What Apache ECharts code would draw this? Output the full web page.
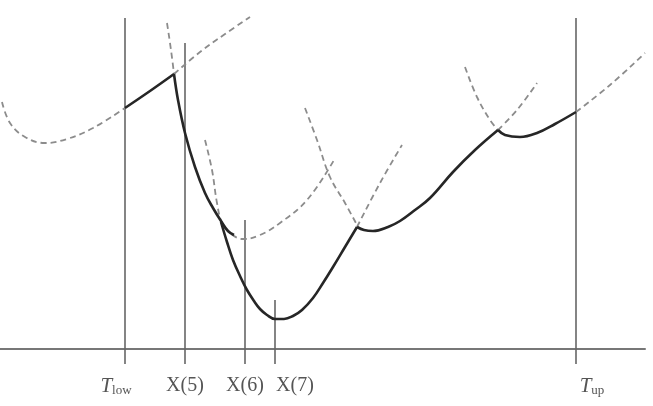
<!DOCTYPE html>
<html><head><meta charset="utf-8">
<script src="https://cdn.jsdelivr.net/npm/echarts@6/dist/echarts.min.js"></script>
<style>html,body{margin:0;padding:0;background:#fff}#c{width:653px;height:406px}</style>
</head><body><div id="c"></div>
<script>
// Tick positions and labels
const tickValues = [125, 185, 245, 275, 576];
const tickLabels = ['{t|T}{sublow|low}', '{x|X(5)}', '{x|X(6)}', '{x7|X(7)}', '{tu|T}{sub|up}'];
// Vertical guide lines: x and top value
const guideX = [125, 185, 245, 275, 576];
const guideTop = [331, 306, 129, 49, 331];

// Curve segments [x, y]
const curveA_dashL = [[2,247],[10,226],[25,212],[45,206],[67,210],[93,221],[125,241]];
const curveA_solid = [[125,241],[150,258],[174,275]];
const curveA_dashR = [[174,275],[200,297],[225,315],[250,332]];
const curveB_dash = [[167,326],[171,299],[174,275]];
const curveB_solid = [[174,275],[178,249],[185,216],[195,182],[205,156],[213,141],[221,128],[228,118],[234,114]];
const curveC_dash = [[205,209],[212,179],[217,146],[222,126],[230,116],[243,110],[260,114],[280,126],[307,149],[334,189]];
const curveD_solid = [[221,127],[227,107],[233,89],[240,73],[247,59],[254,48],[260,40],[267,34],[275,30],[284,30],[293,33],[302,39],[313,51],[323,66],[333,82],[345,102],[357,122]];
const curveD_dash = [[357,122],[380,166],[402,204]];
const curveE_dash = [[305,241],[317,209],[330,172],[345,146],[357,124]];
const curveE_solid = [[357,122],[364,119],[373,118],[388,122],[400,128],[415,139],[430,151],[453,177],[475,199],[498,219]];
const curveE_dash2 = [[498,219],[517,239],[537,266]];
const curveF_dash = [[465,282],[477,252],[490,229],[498,219]];
const curveF_solid = [[498,219],[505,214],[520,212],[537,216],[555,225],[576,237]];
const curveF_dash2 = [[576,237],[610,264],[645,296]];

const solidStyle = {color:'#262626', width:2.6};
const dashStyle = {color:'#8c8c8c', width:1.8, type:[6,4]};
const series = [];
guideX.forEach((x,i)=>{
  series.push({type:'line', data:[[x,0],[x,guideTop[i]]], symbol:'none', clip:false,
    lineStyle:{color:'#666', width:1.6}, silent:true, z:1});
});
[curveA_dashL, curveA_dashR, curveB_dash, curveC_dash, curveD_dash, curveE_dash, curveE_dash2, curveF_dash, curveF_dash2].forEach(d=>{
  series.push({type:'line', data:d, symbol:'none', smooth:0.4, clip:false, lineStyle:dashStyle, z:2});
});
[curveA_solid, curveB_solid, curveD_solid, curveE_solid, curveF_solid].forEach(d=>{
  series.push({type:'line', data:d, symbol:'none', smooth:0.4, clip:false, lineStyle:solidStyle, z:3});
});

const chart = echarts.init(document.getElementById('c'), null, {renderer:'canvas'});
chart.setOption({
  animation:false,
  backgroundColor:'#fff',
  grid:{left:0, right:8, top:0, bottom:57, containLabel:false},
  xAxis:{type:'value', min:0, max:645, splitLine:{show:false},
    axisLine:{show:true, lineStyle:{color:'#777', width:2}},
    axisTick:{show:true, customValues:tickValues, length:15, lineStyle:{color:'#666', width:1.6}},
    axisLabel:{show:true, customValues:tickValues, margin:27, color:'#555',
      fontFamily:'Liberation Serif', fontSize:20,
      formatter:(v)=> tickLabels[tickValues.indexOf(v)],
      rich:{
        t:{fontFamily:'Liberation Serif', fontStyle:'italic', fontSize:21, color:'#555'},
        tu:{fontFamily:'Liberation Serif', fontStyle:'italic', fontSize:21, color:'#555', padding:[0,0,0,32]},
        sub:{fontFamily:'Liberation Serif', fontSize:13, color:'#555', padding:[8,0,0,0]},
        sublow:{fontFamily:'Liberation Serif', fontSize:13, color:'#555', padding:[8,18,0,0]},
        x:{fontFamily:'Liberation Serif', fontSize:20, color:'#555'},
        x7:{fontFamily:'Liberation Serif', fontSize:20, color:'#555', padding:[0,0,0,40]}
      }}},
  yAxis:{type:'value', min:0, max:349, show:false},
  series:series
});
</script></body></html>
